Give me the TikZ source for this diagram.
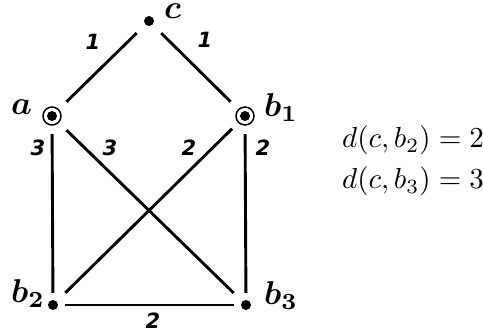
\documentclass[tikz,border=0pt]{standalone}
\usepackage{amsmath}
\usepackage{graphicx}
\usepackage{fontspec}
\newfontfamily\wtfont{DejaVu Sans}
\usetikzlibrary{positioning}
\newcommand{\vlab}[1]{\scalebox{3.3}{\boldmath$#1$}}
\newcommand{\eqlab}[1]{\scalebox{2.9}{$#1$}}

\begin{document}
\begin{tikzpicture}[x=1pt, y=-1pt,
  vert/.style={circle, inner sep=0pt, minimum size=24pt},
  ringed/.style={circle, inner sep=0pt, minimum size=36pt},
  vlabel/.style={inner sep=0pt, anchor=base west},
  wt/.style={font=\wtfont\bfseries\itshape\fontsize{21}{23}\selectfont, inner sep=0pt},
  eqn/.style={inner sep=0pt, anchor=base west},
  link/.style={line width=2.9pt}
]
\useasboundingbox (0,0) rectangle (483,334);

% vertices
\node[vert]   (c)  at (149,21)  {};
\node[ringed] (a)  at (52,116)  {};
\node[ringed] (b1) at (245,116) {};
\node[vert]   (b2) at (53,305)  {};
\node[vert]   (b3) at (246,305) {};

\foreach \v in {c, a, b1, b2, b3}
  \fill (\v.center) circle (5pt);
\foreach \v in {a, b1}
  \draw[line width=1.5pt] (\v.center) circle (9pt);

% vertex names
\node[vlabel] (lc)  at (164,19)  {\vlab{c}};
\node[vlabel] (la)  at (11,115)  {\vlab{a}};
\node[vlabel] (lb1) at (264,117) {\vlab{b_1}};
\node[vlabel] (lb2) at (11,303)  {\vlab{b_2}};
\node[vlabel] (lb3) at (264,305) {\vlab{b_3}};

% edges
\draw[link, shorten <=5pt, shorten >=2pt] (c) -- (a);
\draw[link, shorten <=5pt, shorten >=2pt] (c) -- (b1);
\draw[link] (a) -- (b2);
\draw[link, shorten <=2pt, shorten >=5pt] (a) -- (b3);
\draw[link, shorten <=0pt, shorten >=5pt] (b1) -- (b2);
\draw[link] (b1) -- (b3);
\draw[link] (b2) -- (b3);

% weights
\node[wt] (w1) at (93,42)   {1};
\node[wt] (w2) at (205,40)  {1};
\node[wt] (w3) at (38,148)  {3};
\node[wt] (w4) at (110,148) {3};
\node[wt] (w5) at (189,148) {2};
\node[wt] (w6) at (263,148) {2};
\node[wt] (w7) at (153,321) {2};

% distances
\node[eqn] (d2) at (342,148) {\eqlab{d(c,b_2)=2}};
\node[eqn] (d3) at (342,189) {\eqlab{d(c,b_3)=3}};
\end{tikzpicture}
\end{document}
